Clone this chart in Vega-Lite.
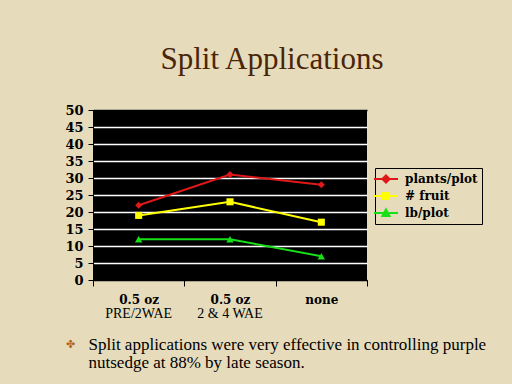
{
  "$schema": "https://vega.github.io/schema/vega-lite/v6.json",
  "autosize": {"type": "none"},
  "width": 274,
  "height": 170,
  "padding": {"left": 93, "top": 110, "right": 145, "bottom": 104},
  "background": "#e6dcbc",
  "config": {
    "view": {"fill": "black", "stroke": null}
  },
  "title": {
    "text": "Split Applications",
    "font": "Liberation Serif",
    "fontSize": 31,
    "fontWeight": "normal",
    "color": "#4a2508",
    "anchor": "middle",
    "frame": "group",
    "dx": 42,
    "baseline": "alphabetic",
    "offset": 4
  },
  "data": {
    "values": [
      {"treatment": "0.5 oz|PRE/2WAE", "series": "plants/plot", "value": 22},
      {"treatment": "0.5 oz|2 & 4 WAE", "series": "plants/plot", "value": 31},
      {"treatment": "none|", "series": "plants/plot", "value": 28},
      {"treatment": "0.5 oz|PRE/2WAE", "series": "# fruit", "value": 19},
      {"treatment": "0.5 oz|2 & 4 WAE", "series": "# fruit", "value": 23},
      {"treatment": "none|", "series": "# fruit", "value": 17},
      {"treatment": "0.5 oz|PRE/2WAE", "series": "lb/plot", "value": 12},
      {"treatment": "0.5 oz|2 & 4 WAE", "series": "lb/plot", "value": 12},
      {"treatment": "none|", "series": "lb/plot", "value": 7}
    ]
  },
  "encoding": {
    "y": {
      "field": "value",
      "type": "quantitative",
      "scale": {"domain": [0, 50], "nice": false},
      "axis": {
        "values": [0, 5, 10, 15, 20, 25, 30, 35, 40, 45, 50],
        "labelOverlap": false,
        "title": null,
        "grid": true,
        "gridColor": {"condition": {"test": "datum.value == 0 || datum.value == 50", "value": "black"}, "value": "white"},
        "gridWidth": 1.5,
        "gridOpacity": 1,
        "tickColor": "black",
        "tickSize": 5,
        "domainColor": "black",
        "labelFont": "DejaVu Serif",
        "labelFontWeight": "bold",
        "labelFontSize": 13,
        "labelColor": "black",
        "labelPadding": 5
      }
    },
    "color": {
      "field": "series",
      "type": "nominal",
      "scale": {"domain": ["plants/plot", "# fruit", "lb/plot"], "range": ["#e01818", "#ffff00", "#18e018"]},
      "legend": null
    }
  },
  "resolve": {"axis": {"x": "independent"}},
  "layer": [
    {
      "mark": {"type": "line", "strokeWidth": 2},
      "encoding": {
        "x": {
          "field": "treatment",
          "type": "nominal",
          "sort": null,
          "scale": {"type": "band", "paddingInner": 0, "paddingOuter": 0},
          "axis": {
            "orient": "bottom",
            "tickBand": "extent",
            "grid": false,
            "ticks": true,
            "tickSize": 6,
            "tickColor": "black",
            "domainColor": "black",
            "labelAngle": 0,
            "labelFont": "DejaVu Serif",
            "labelFontWeight": "bold",
            "labelFontSize": 12,
            "labelColor": "black",
            "labelPadding": 8,
            "labelExpr": "split(datum.label, '|')[0]",
            "title": "✤",
            "titleFont": "DejaVu Sans",
            "titleFontSize": 11,
            "titleColor": "#b5651d",
            "titleX": -23,
            "titleY": 64,
            "titleAlign": "center",
            "titleBaseline": "middle",
            "titleAnchor": null
          }
        },
        "color": {
          "field": "series",
          "type": "nominal",
          "legend": {
            "title": null,
            "orient": "none",
            "legendX": 282,
            "legendY": 58,
            "padding": 4,
            "strokeColor": "black",
            "fillColor": null,
            "symbolSize": 144,
            "symbolStrokeWidth": 2,
            "labelFont": "DejaVu Serif",
            "labelFontWeight": "bold",
            "labelFontSize": 12,
            "labelColor": "black",
            "labelOffset": 12,
            "rowPadding": 2,
            "encode": {
              "symbols": {
                "update": {
                  "fill": {"scale": "color", "field": "value"},
                  "shape": {"signal": "datum.value === 'plants/plot' ? 'M-2,0H2M0,-0.6L0.6,0L0,0.6L-0.6,0Z' : datum.value === '# fruit' ? 'M-2,0H2M-0.5,-0.5H0.5V0.5H-0.5Z' : 'M-2,0H2M0,-0.6L0.6,0.5H-0.6Z'"}
                }
              }
            }
          }
        }
      }
    },
    {
      "transform": [{"filter": "datum.series === 'plants/plot'"}],
      "mark": {"type": "point", "shape": "diamond", "filled": true, "opacity": 1, "size": 50},
      "encoding": {
        "x": {
          "field": "treatment",
          "type": "nominal",
          "sort": null,
          "axis": {
            "orient": "bottom",
            "ticks": false,
            "domain": false,
            "grid": false,
            "labelAngle": 0,
            "labelFont": "Liberation Serif",
            "labelFontWeight": "normal",
            "labelFontSize": 14,
            "labelColor": "black",
            "offset": 22,
            "labelPadding": 4,
            "labelExpr": "split(datum.label, '|')[1]",
            "title": ["Split applications were very effective in controlling purple", "nutsedge at 88% by late season."],
            "titleFont": "Liberation Serif",
            "titleFontSize": 17,
            "titleFontWeight": "normal",
            "titleColor": "black",
            "titleLineHeight": 18,
            "titleX": -5,
            "titleY": 34,
            "titleAlign": "left",
            "titleBaseline": "top",
            "titleAnchor": null
          }
        }
      }
    },
    {
      "transform": [{"filter": "datum.series === '# fruit'"}],
      "mark": {"type": "point", "shape": "square", "filled": true, "opacity": 1, "size": 50},
      "encoding": {
        "x": {"field": "treatment", "type": "nominal", "sort": null, "axis": null}
      }
    },
    {
      "transform": [{"filter": "datum.series === 'lb/plot'"}],
      "mark": {"type": "point", "shape": "triangle-up", "filled": true, "opacity": 1, "size": 55},
      "encoding": {
        "x": {"field": "treatment", "type": "nominal", "sort": null, "axis": null}
      }
    }
  ]
}
